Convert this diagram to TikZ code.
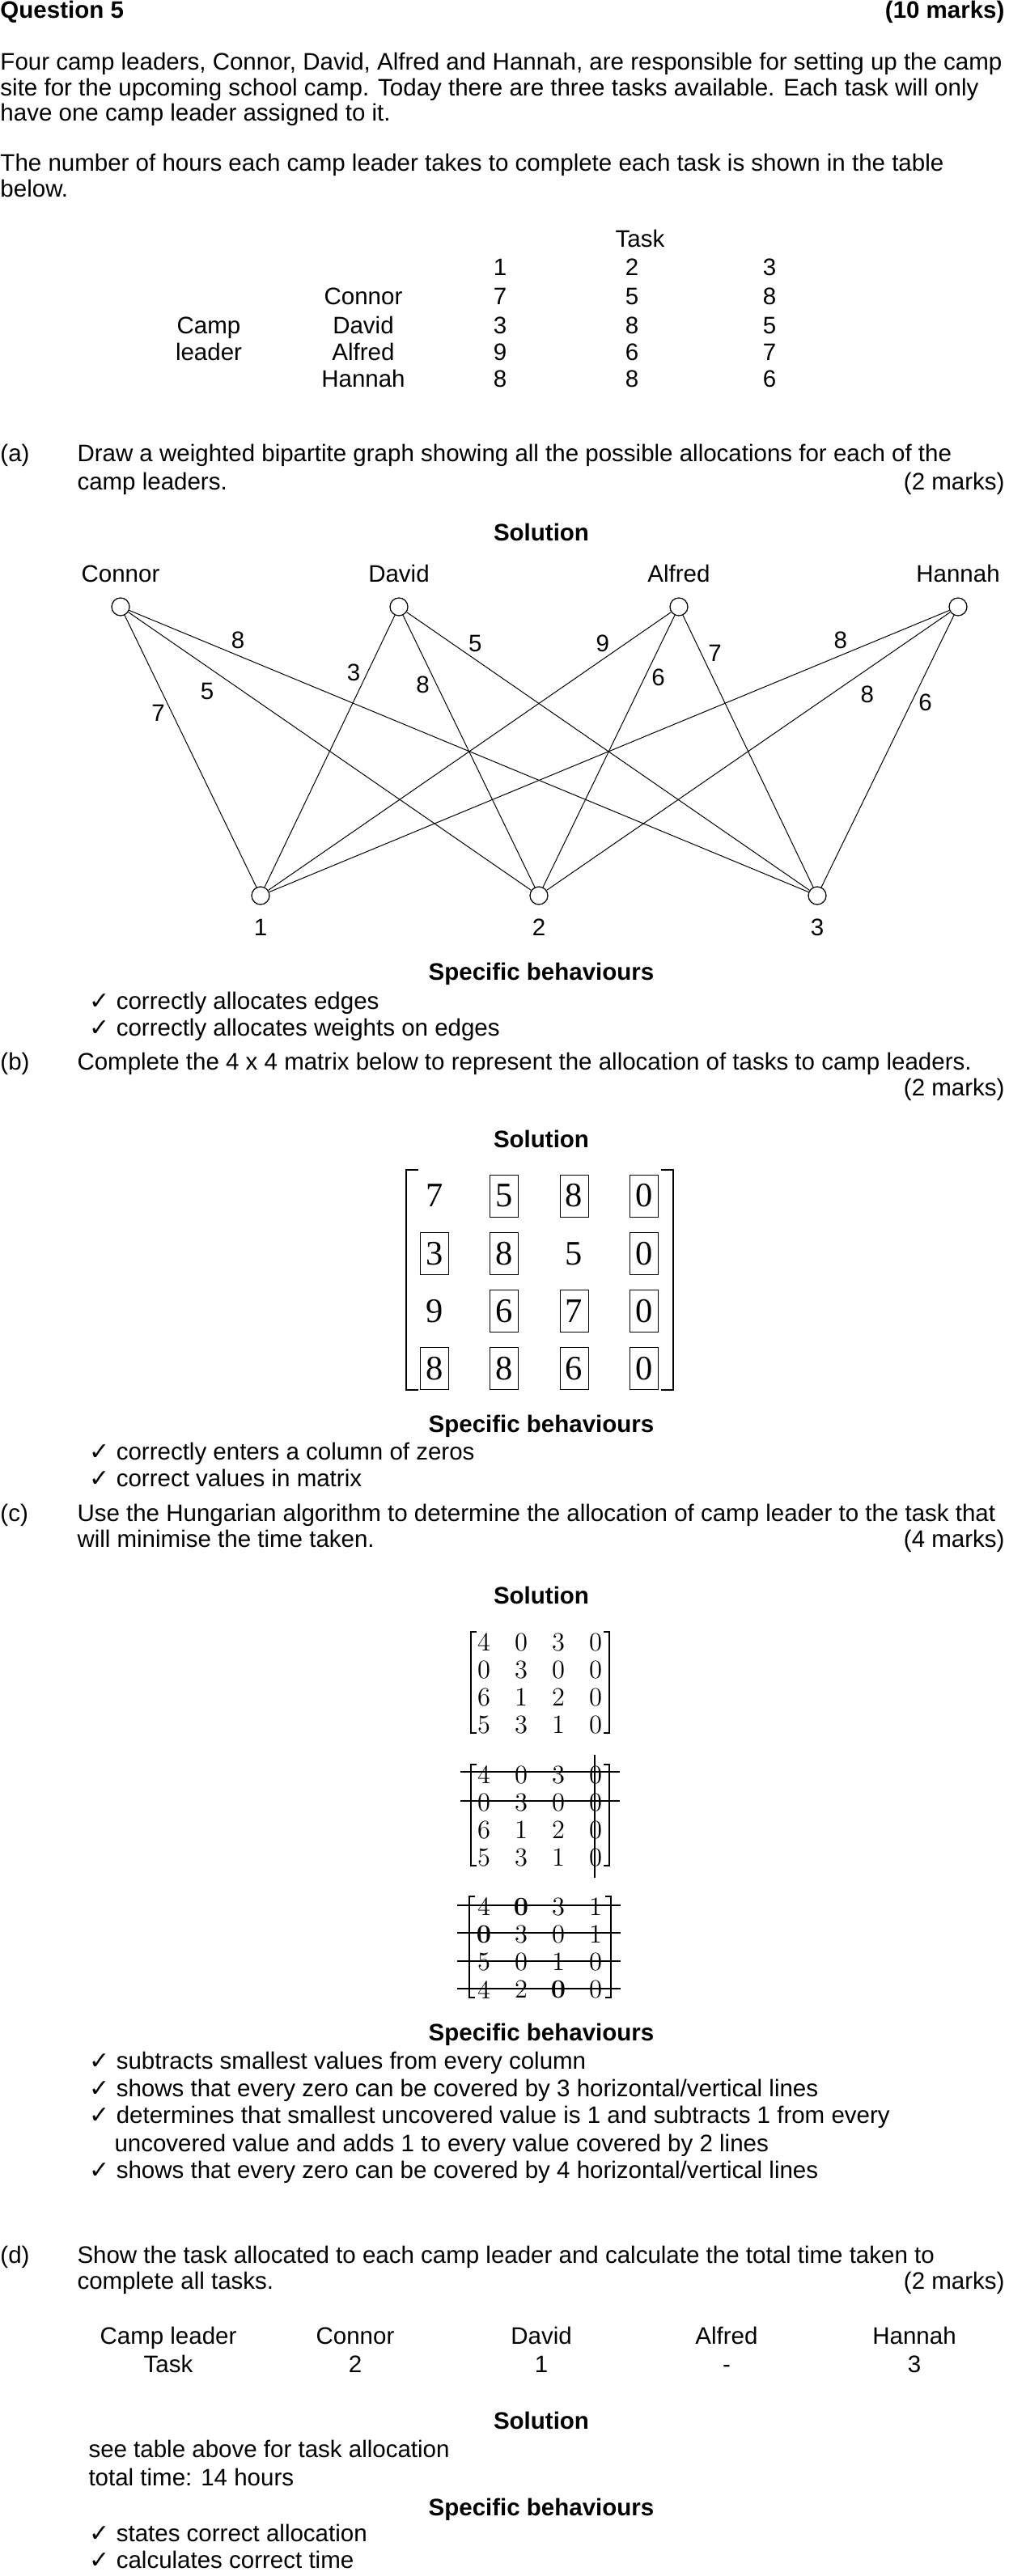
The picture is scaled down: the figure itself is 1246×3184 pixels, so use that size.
\documentclass[tikz,border=0pt]{standalone}
\usepackage{fontspec}
\newfontfamily\arial{Liberation Sans}
\newfontfamily\matfont{Liberation Serif}
\newfontfamily\symb{DejaVu Sans}
\usetikzlibrary{positioning}
\newcommand{\bodyfont}{\arial\fontsize{11.8}{14}\selectfont}
\newcommand{\headfont}{\arial\bfseries\fontsize{11.8}{14}\selectfont}
\newcommand{\chk}{{\symb\fontsize{12}{14}\selectfont ✓}}
\tikzset{
  txt/.style = {font=\bodyfont, inner sep=0pt, anchor=base west},
  txtr/.style = {txt, anchor=base east},
  txtc/.style = {txt, anchor=base},
  head/.style = {txtc, font=\headfont},
  vert/.style = {circle, draw, line width=0.5pt, minimum size=8.8pt, inner sep=0pt},
  vname/.style = {font=\bodyfont, inner sep=0pt},
  edge/.style = {line width=0.4pt},
  wt/.style = {font=\bodyfont},
  cellb/.style = {draw, line width=0.4pt, minimum width=14pt, minimum height=20.8pt, inner sep=0pt, font=\matfont\fontsize{17}{20}\selectfont},
  cellc/.style = {inner sep=0pt, font=\rmfamily\fontsize{13}{15}\selectfont},
  brak/.style = {line width=0.45pt},
  strike/.style = {line width=0.45pt}
}

\begin{document}
\begin{tikzpicture}[x=0.4pt, y=-0.4pt]
  \useasboundingbox (0,0) rectangle (1246,3184);

  % Question
  \node[txt, font=\headfont] (q) at (0,23) {Question 5};
  \node[txtr, font=\headfont] (qm) at (1242,23) {(10 marks)};
  \node[txt] (p1) at (0,87) {Four camp leaders, Connor, David, Alfred and Hannah, are responsible for setting up the camp};
  \node[txt] (p2) at (0,118.5) {site for the upcoming school camp. Today there are three tasks available. Each task will only};
  \node[txt] (p3) at (0,150) {have one camp leader assigned to it.};
  \node[txt] (p4) at (0,212) {The number of hours each camp leader takes to complete each task is shown in the table};
  \node[txt] (p5) at (0,244) {below.};

  % Table of hours
  \node[txtc] (task) at (791,306) {Task};
  \node[txtc] (t1) at (618,340) {1};
  \node[txtc] (t2) at (781,340) {2};
  \node[txtc] (t3) at (951,340) {3};
  \node[txtc] (camp) at (258,412) {Camp};
  \node[txtc] (leader) at (258,445) {leader};
  \foreach \n/\a/\b/\c/\y in {Connor/7/5/8/377, David/3/8/5/412, Alfred/9/6/7/445, Hannah/8/8/6/478} {
    \node[txtc] (r\n) at (449,\y) {\n};
    \node[txtc] (r\n1) at (618,\y) {\a};
    \node[txtc] (r\n2) at (781,\y) {\b};
    \node[txtc] (r\n3) at (951,\y) {\c};
  }

  % Part (a)
  \node[txt] (a) at (0,570) {(a)};
  \node[txt] (a1) at (95,570) {Draw a weighted bipartite graph showing all the possible allocations for each of the};
  \node[txt] (a2) at (95,605) {camp leaders.};
  \node[txtr] (am) at (1242,605) {(2 marks)};
  \node[head] (asol) at (669,668) {Solution};

  % Bipartite graph
  \node[vert] (C) at (149,750) {};
  \node[vert] (D) at (493,750) {};
  \node[vert] (A) at (839,750) {};
  \node[vert] (H) at (1184,750) {};
  \node[vert] (T1) at (322,1107) {};
  \node[vert] (T2) at (666,1107) {};
  \node[vert] (T3) at (1010,1107) {};
  \node[vname, above=7.2pt of C] (nC) {Connor};
  \node[vname, above=7.2pt of D] (nD) {David};
  \node[vname, above=7.2pt of A] (nA) {Alfred};
  \node[vname, above=7.2pt of H] (nH) {Hannah};
  \node[vname, below=6.8pt of T1] (n1) {1};
  \node[vname, below=6.8pt of T2] (n2) {2};
  \node[vname, below=6.8pt of T3] (n3) {3};

  \foreach \s/\t/\w/\p/\side in {C/T1/7/.36/left, C/T2/5/.23/below left, C/T3/8/.16/above,
      D/T1/3/.21/left, D/T2/8/.255/left, D/T3/5/.17/above,
      A/T1/9/.17/above, A/T2/6/.23/right, A/T3/7/.14/right,
      H/T1/8/.16/above, H/T2/8/.24/below right, H/T3/6/.32/right} {
    \draw[edge] (\s) -- node[wt, pos=\p, \side] {\w} (\t);
  }

  \node[head] (asb) at (669,1211) {Specific behaviours};
  \node[txt] (ac1) at (110,1247) {\chk\ correctly allocates edges};
  \node[txt] (ac2) at (110,1280) {\chk\ correctly allocates weights on edges};

  % Part (b)
  \node[txt] (b) at (0,1322) {(b)};
  \node[txt] (b1) at (95,1322) {Complete the 4 x 4 matrix below to represent the allocation of tasks to camp leaders.};
  \node[txtr] (bm) at (1242,1354) {(2 marks)};
  \node[head] (bsol) at (669,1418) {Solution};

  \draw[brak] (517,1446) -- (502,1446) -- (502,1718) -- (517,1718);
  \draw[brak] (817,1446) -- (832,1446) -- (832,1718) -- (817,1718);
  \foreach \v/\f [count=\k from 0] in {7/0,5/1,8/1,0/1, 3/1,8/1,5/0,0/1, 9/0,6/1,7/1,0/1, 8/1,8/1,6/1,0/1} {
    \pgfmathtruncatemacro\mr{\k/4}
    \pgfmathtruncatemacro\mc{mod(\k,4)}
    \node[cellb, draw opacity=\f] (b\mr\mc) at ({537+86.3*\mc},{1478+71.3*\mr}) {\v};
  }

  \node[head] (bsb) at (669,1770) {Specific behaviours};
  \node[txt] (bc1) at (110,1804) {\chk\ correctly enters a column of zeros};
  \node[txt] (bc2) at (110,1837) {\chk\ correct values in matrix};

  % Part (c)
  \node[txt] (c) at (0,1880) {(c)};
  \node[txt] (c1) at (95,1880) {Use the Hungarian algorithm to determine the allocation of camp leader to the task that};
  \node[txt] (c2) at (95,1912) {will minimise the time taken.};
  \node[txtr] (cm) at (1242,1912) {(4 marks)};
  \node[head] (csol) at (669,1982) {Solution};

  % reduced matrices
  \foreach \t/\m in {2017/p, 2181/q} {
    \draw[brak] (589,\t) -- (582,\t) -- ({582},{\t+125}) -- ({589},{\t+125});
    \draw[brak] (746,\t) -- (753,\t) -- ({753},{\t+125}) -- ({746},{\t+125});
    \foreach \v [count=\k from 0] in {4,0,3,0, 0,3,0,0, 6,1,2,0, 5,3,1,0} {
      \pgfmathtruncatemacro\mr{\k/4}
      \pgfmathtruncatemacro\mc{mod(\k,4)}
      \node[cellc] (\m\mr\mc) at ({598+46*\mc},{\t+13+34*\mr}) {\v};
    }
  }
  \draw[strike] (569,2190) -- (766,2190);
  \draw[strike] (569,2226) -- (766,2226);
  \draw[strike] (735,2169) -- (735,2321);

  \draw[brak] (587,2344) -- (580,2344) -- (580,2469) -- (587,2469);
  \draw[brak] (748,2344) -- (755,2344) -- (755,2469) -- (748,2469);
  \foreach \v/\f [count=\k from 0] in {4/0,0/1,3/0,1/0, 0/1,3/0,0/0,1/0, 5/0,0/0,1/0,0/0, 4/0,2/0,0/1,0/0} {
    \pgfmathtruncatemacro\mr{\k/4}
    \pgfmathtruncatemacro\mc{mod(\k,4)}
    \node[cellc] (s\mr\mc) at ({598+46*\mc},{2357+34*\mr}) {\ifnum\f=1 \bfseries\fi\v};
  }
  \foreach \y in {2355,2389,2424,2458}
    \draw[strike] (565,\y) -- (767,\y);

  \node[head] (csb) at (669,2522) {Specific behaviours};
  \node[txt] (cc1) at (110,2557) {\chk\ subtracts smallest values from every column};
  \node[txt] (cc2) at (110,2591) {\chk\ shows that every zero can be covered by 3 horizontal/vertical lines};
  \node[txt] (cc3) at (110,2624) {\chk\ determines that smallest uncovered value is 1 and subtracts 1 from every};
  \node[txt] (cc4) at (141,2659) {uncovered value and adds 1 to every value covered by 2 lines};
  \node[txt] (cc5) at (110,2692) {\chk\ shows that every zero can be covered by 4 horizontal/vertical lines};

  % Part (d)
  \node[txt] (d) at (0,2797) {(d)};
  \node[txt] (d1) at (95,2797) {Show the task allocated to each camp leader and calculate the total time taken to};
  \node[txt] (d2) at (95,2829) {complete all tasks.};
  \node[txtr] (dm) at (1242,2829) {(2 marks)};

  \node[txtc] (dcl) at (208,2897) {Camp leader};
  \node[txtc] (dtk) at (208,2932) {Task};
  \foreach \n/\v/\x in {Connor/2/439, David/1/669, Alfred/-/898, Hannah/3/1130} {
    \node[txtc] (d\n) at (\x,2897) {\n};
    \node[txtc] (d\n t) at (\x,2932) {\v};
  }

  \node[head] (dsol) at (669,3002) {Solution};
  \node[txt] (ds1) at (109,3037) {see table above for task allocation};
  \node[txt] (ds2) at (109,3072) {total time: 14 hours};
  \node[head] (dsb) at (669,3109) {Specific behaviours};
  \node[txt] (dc1) at (110,3141) {\chk\ states correct allocation};
  \node[txt] (dc2) at (110,3174) {\chk\ calculates correct time};

\end{tikzpicture}
\end{document}
